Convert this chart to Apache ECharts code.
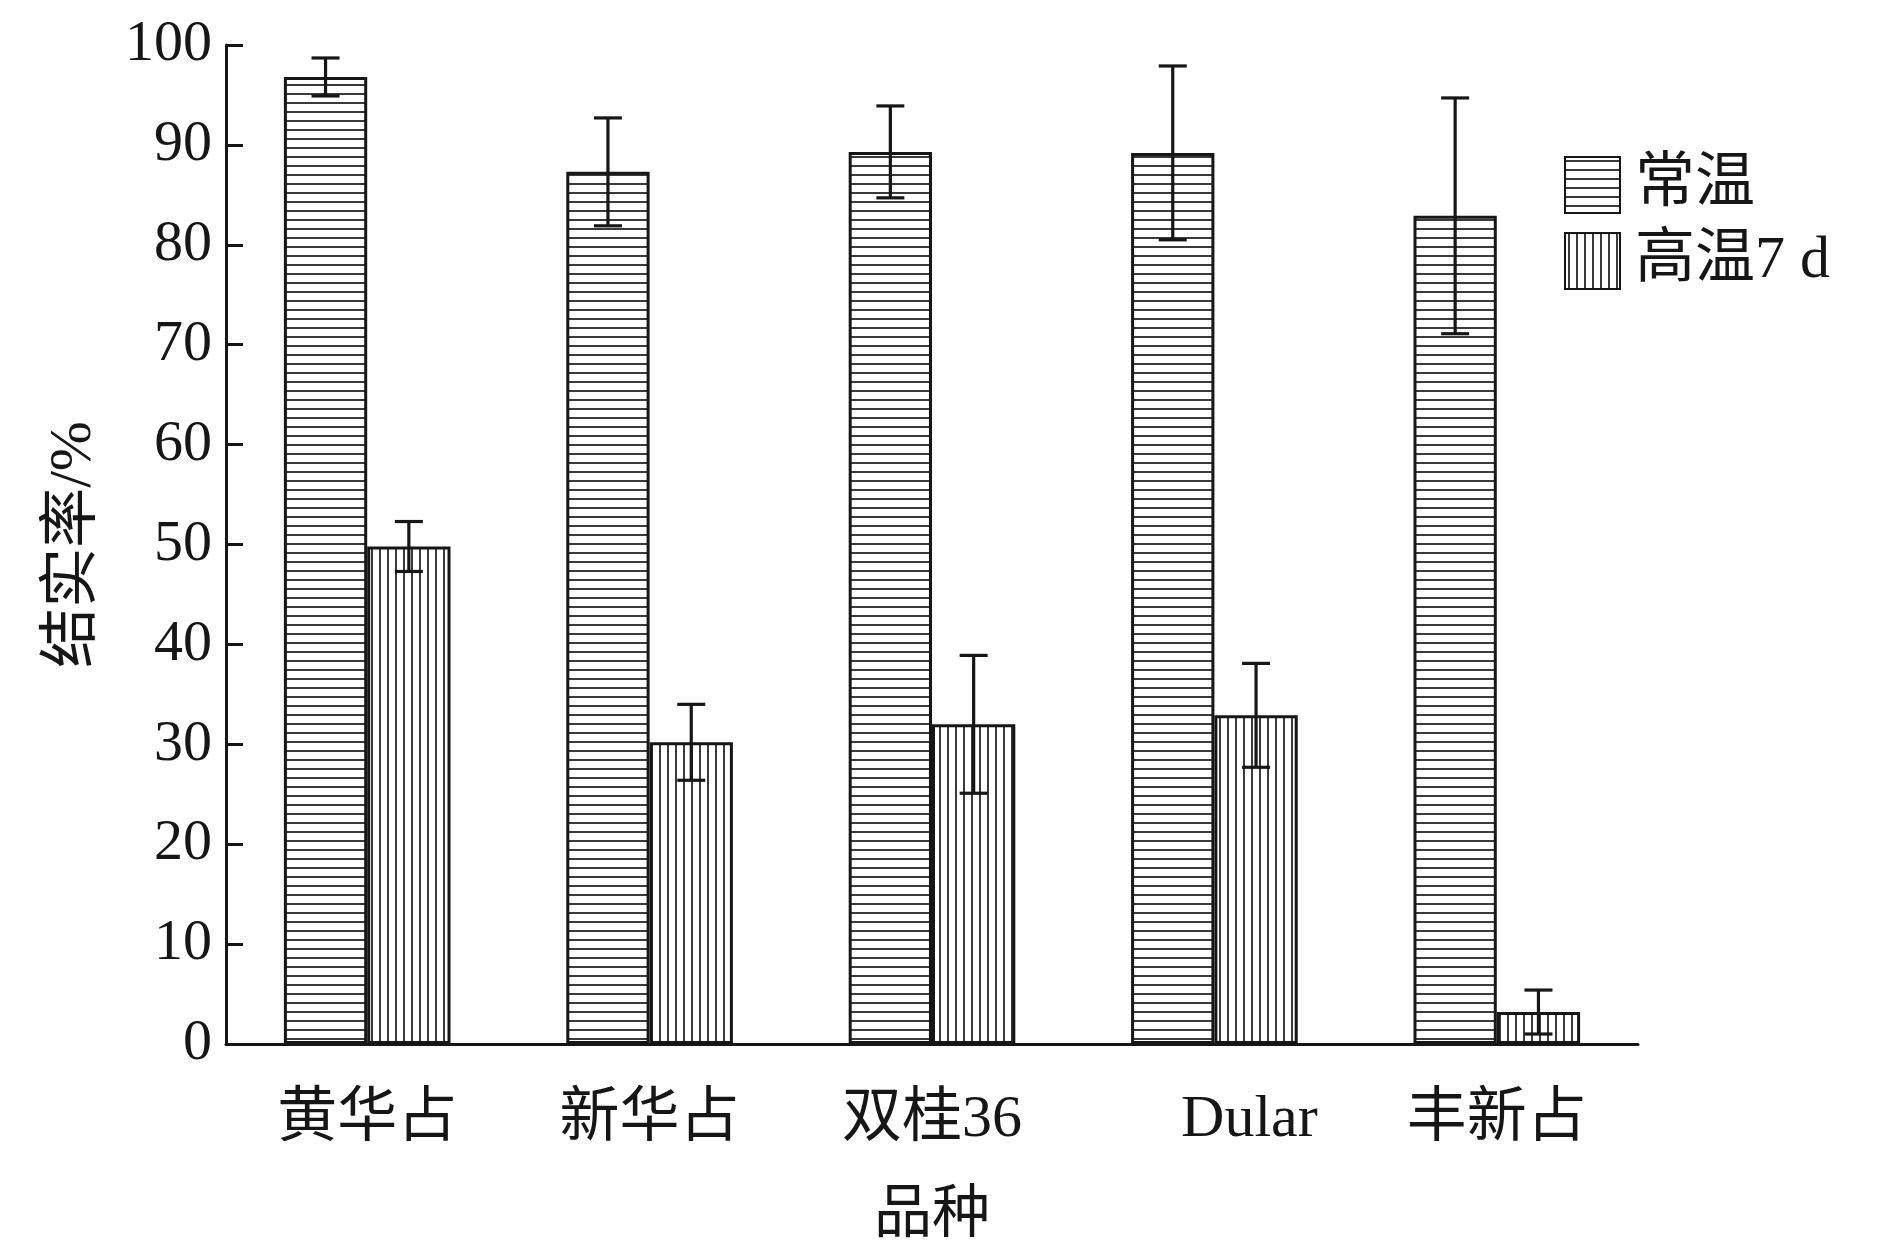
<!DOCTYPE html>
<html>
<head>
<meta charset="utf-8">
<title>结实率</title>
<script src="https://cdn.jsdelivr.net/npm/echarts@6/dist/echarts.min.js"></script>
<style>
  html, body { margin: 0; padding: 0; background: #fff; }
  #chart { width: 1891px; height: 1240px; }
</style>
</head>
<body>
<div id="chart"></div>
<script>
// Varieties
const categories = ['黄华占', '新华占', '双桂36', 'Dular', '丰新占'];
// Seed-setting rate (%) at normal temperature
const normalMean = [96.8, 87.3, 89.3, 89.2, 82.9];
const normalErr  = [1.9, 5.4, 4.6, 8.7, 11.8];
// Seed-setting rate (%) after 7 d of high temperature
const heatMean = [49.8, 30.2, 32.0, 32.9, 3.2];
const heatErr  = [2.5, 3.8, 6.9, 5.2, 2.2];
const seriesNames = ['常温', '高温7 d'];

const INK = '#161616';
const FONT = "'Liberation Serif', 'Noto Sans CJK SC', serif";
const BAR_GAP_CAT = 0.41;

// Hatch fill patterns
function hatch(horizontal) {
  const c = document.createElement('canvas');
  if (horizontal) { c.width = 10; c.height = 9; } else { c.width = 8; c.height = 10; }
  const g = c.getContext('2d');
  g.fillStyle = '#ffffff';
  g.fillRect(0, 0, c.width, c.height);
  g.fillStyle = '#3a3a3a';
  if (horizontal) g.fillRect(0, 3, c.width, 2);
  else g.fillRect(3, 0, 2, c.height);
  return { image: c, repeat: 'repeat' };
}

// Error bars positioned over the left (-1) or right (+1) bar of each group
function errorRender(side) {
  return function (params, api) {
    const i = api.value(0), m = api.value(1), e = api.value(2);
    const band = api.size([1, 0])[0];
    const barW = band * (1 - BAR_GAP_CAT) / 2;
    const x = api.coord([i, m])[0] + side * barW / 2;
    const yTop = api.coord([i, m + e])[1];
    const yBot = api.coord([i, m - e])[1];
    const cap = 14;
    const style = { stroke: INK, lineWidth: 3.2, fill: null };
    return {
      type: 'group',
      children: [
        { type: 'line', shape: { x1: x, y1: yTop, x2: x, y2: yBot }, style },
        { type: 'line', shape: { x1: x - cap, y1: yTop, x2: x + cap, y2: yTop }, style },
        { type: 'line', shape: { x1: x - cap, y1: yBot, x2: x + cap, y2: yBot }, style }
      ]
    };
  };
}

const errData = (means, errs) => means.map((m, i) => [i, m, errs[i]]);

const chart = echarts.init(document.getElementById('chart'), null, { renderer: 'canvas' });

chart.setOption({
  backgroundColor: '#ffffff',
  animation: false,
  grid: { left: 226, right: 253, top: 45, bottom: 196, containLabel: false, outerBoundsMode: 'none' },
  legend: {
    data: seriesNames,
    orient: 'vertical',
    left: 1559,
    top: 150,
    itemWidth: 55,
    itemHeight: 56,
    itemGap: 16,
    icon: 'rect',
    textStyle: { fontFamily: FONT, fontSize: 60, color: INK, padding: [0, 0, 0, 10] }
  },
  xAxis: {
    type: 'category',
    data: categories,
    name: '品种',
    nameLocation: 'middle',
    nameGap: 144,
    nameTextStyle: { fontFamily: FONT, fontSize: 58, color: INK },
    axisLine: { lineStyle: { color: INK, width: 3 } },
    axisTick: { show: false },
    axisLabel: {
      interval: 0,
      fontFamily: FONT, fontSize: 60, color: INK, margin: 46,
      formatter: v => v === 'Dular' ? '{shift|' + v + '}' : v,
      rich: { shift: { fontFamily: FONT, fontSize: 60, color: INK, padding: [0, 0, 0, 70] } }
    }
  },
  yAxis: {
    type: 'value',
    min: 0, max: 100, interval: 10,
    name: '结实率/%',
    nameLocation: 'middle',
    nameGap: 122,
    nameTextStyle: { fontFamily: FONT, fontSize: 60, color: INK },
    axisLine: { show: true, lineStyle: { color: INK, width: 3 } },
    axisTick: { show: true, inside: true, length: 17, lineStyle: { color: INK, width: 3 } },
    axisLabel: { fontFamily: FONT, fontSize: 58, color: INK, margin: 14 },
    splitLine: { show: false }
  },
  series: [
    {
      name: seriesNames[0],
      type: 'bar',
      data: normalMean,
      barGap: '0%',
      barCategoryGap: (BAR_GAP_CAT * 100) + '%',
      itemStyle: { color: hatch(true), borderColor: INK, borderWidth: 3 }
    },
    {
      name: seriesNames[1],
      type: 'bar',
      data: heatMean,
      itemStyle: { color: hatch(false), borderColor: INK, borderWidth: 3 }
    },
    {
      type: 'custom',
      renderItem: errorRender(-1),
      data: errData(normalMean, normalErr),
      encode: { x: 0, y: 1 },
      z: 10,
      silent: true
    },
    {
      type: 'custom',
      renderItem: errorRender(1),
      data: errData(heatMean, heatErr),
      encode: { x: 0, y: 1 },
      z: 10,
      silent: true
    }
  ]
});
</script>
</body>
</html>
